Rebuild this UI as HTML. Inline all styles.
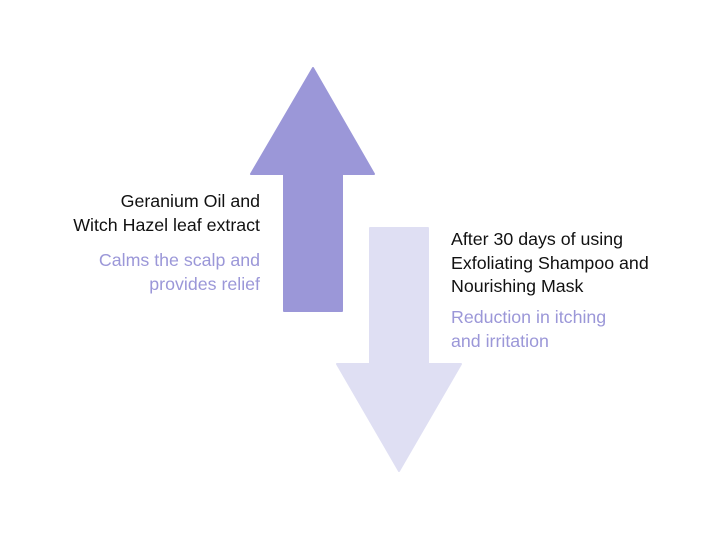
<!DOCTYPE html>
<html><head><style>
html,body{margin:0;padding:0;background:#fff;width:720px;height:540px;overflow:hidden;position:relative;font-family:"Liberation Sans",sans-serif;}
.t{position:absolute;font-size:17.8px;line-height:23.5px;white-space:nowrap;}
.l{right:460px;text-align:right;}
.r{left:451px;}
.b{color:#111;}
.p{color:#9b97d8;}
</style></head><body>
<svg width="720" height="540" style="position:absolute;left:0;top:0">
<polygon points="313,68 251,174 284,174 284,311 342,311 342,174 374,174" fill="#9b97d8" stroke="#9b97d8" stroke-width="2" stroke-linejoin="round"/>
<polygon points="370,228 428,228 428,364 461,364 399,471 337,364 370,364" fill="#dfdff3" stroke="#dfdff3" stroke-width="2" stroke-linejoin="round"/>
</svg>
<div class="t l b" style="top:190px">Geranium Oil and<br>Witch Hazel leaf extract</div>
<div class="t l p" style="top:249px">Calms the scalp and<br>provides relief</div>
<div class="t r b" style="top:228px">After 30 days of using<br>Exfoliating Shampoo and<br>Nourishing Mask</div>
<div class="t r p" style="top:306px">Reduction in itching<br>and irritation</div>
</body></html>
